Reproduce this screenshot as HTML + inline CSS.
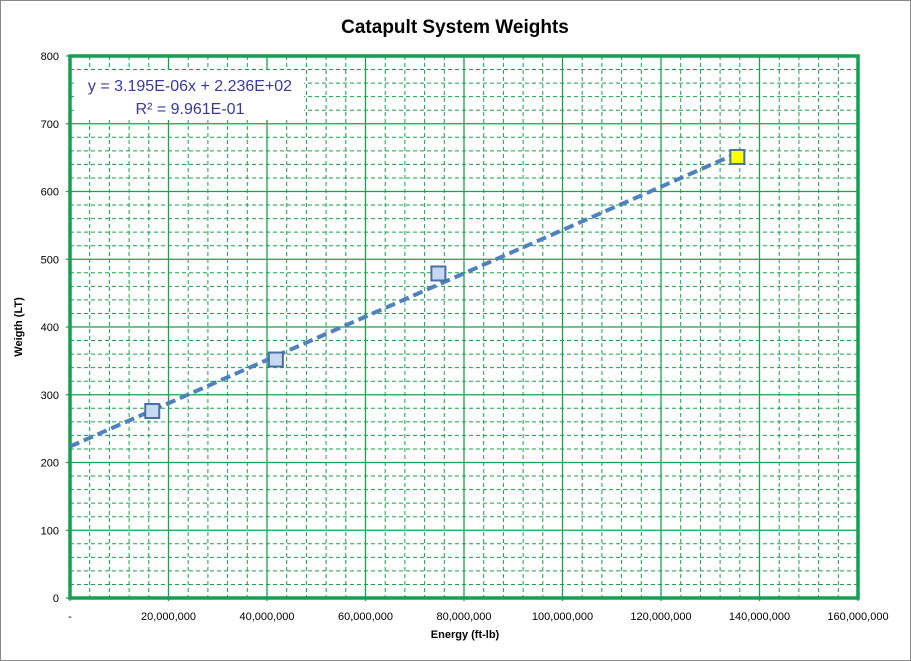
<!DOCTYPE html>
<html><head><meta charset="utf-8"><style>
html,body{margin:0;padding:0;background:#fff;}
svg{display:block;font-family:"Liberation Sans",Arial,sans-serif;}
</style></head><body>
<svg id="chart" width="911" height="661" viewBox="0 0 911 661">
<rect x="0.5" y="0.5" width="910" height="660" fill="#fff" stroke="#888"/>
<text x="455" y="33" text-anchor="middle" font-size="19" font-weight="bold" fill="#000">Catapult System Weights</text>
<g id="grid"></g>
<g id="axes"></g>
<g id="marks"></g>
<text x="465" y="638" text-anchor="middle" font-size="11" font-weight="bold">Energy (ft-lb)</text>
<text transform="translate(22,327) rotate(-90)" text-anchor="middle" font-size="11" font-weight="bold">Weigth (LT)</text>
<g>
<rect x="76" y="70" width="228" height="50" fill="#fff"/>
<text x="190" y="91" text-anchor="middle" font-size="16" fill="#3a3a9a">y = 3.195E-06x + 2.236E+02</text>
<text x="190" y="114" text-anchor="middle" font-size="16" fill="#3a3a9a">R² = 9.961E-01</text>
</g>
</svg>
<script>
const xTicks=[0,20000000,40000000,60000000,80000000,100000000,120000000,140000000,160000000];
const xTickLabels=["-","20,000,000","40,000,000","60,000,000","80,000,000","100,000,000","120,000,000","140,000,000","160,000,000"];
const yTicks=[0,100,200,300,400,500,600,700,800];
const energy=[16700000,41800000,74800000,135500000];
const weight=[276,352,479,651];
const pointColors=["#c5d9f1","#c5d9f1","#c5d9f1","#ffff00"];
const slope=3.195e-6, intercept=223.6;
const L=70,R=858,T=56,B=598;
const xs=v=>L+(v-0)/(160000000)*(R-L);
const ys=v=>B-(v/800)*(B-T);
const NS="http://www.w3.org/2000/svg";
function mk(tag,attrs,parent){const e=document.createElementNS(NS,tag);for(const k in attrs)e.setAttribute(k,attrs[k]);parent.appendChild(e);return e;}
const grid=document.getElementById('grid'),axes=document.getElementById('axes'),marks=document.getElementById('marks');
const g="#16a34a";
for(let i=0;i<xTicks.length-1;i++){const a=xTicks[i],b=xTicks[i+1];for(let k=1;k<5;k++){const x=xs(a+(b-a)*k/5);
const l=mk('line',{x1:x,x2:x,y1:T,y2:B,stroke:g,'stroke-width':1,'stroke-dasharray':'4,3'},grid);

}}
for(let i=0;i<yTicks.length-1;i++){const a=yTicks[i],b=yTicks[i+1];for(let k=1;k<5;k++){const y=ys(a+(b-a)*k/5);
const l=mk('line',{x1:L,x2:R,y1:y,y2:y,stroke:g,'stroke-width':1,'stroke-dasharray':'4,3'},grid);

}}
xTicks.forEach((v,i)=>{const x=xs(v);
const l=mk('line',{x1:x,x2:x,y1:T,y2:B+3,stroke:g,'stroke-width':1.3},grid);


const t=mk('text',{x:x,y:620,'text-anchor':'middle','font-size':11},axes);t.textContent=xTickLabels[i];

});
yTicks.forEach(v=>{const y=ys(v);
const l=mk('line',{x1:L-4,x2:R,y1:y,y2:y,stroke:g,'stroke-width':1.3},grid);


const t=mk('text',{x:L-11,y:y+4,'text-anchor':'end','font-size':11},axes);t.textContent=v;

});
const fr=mk('rect',{x:L,y:T,width:R-L,height:B-T,fill:'none',stroke:'#13a050','stroke-width':3.5},axes);


const xEnd=energy[energy.length-1];
const tl=mk('line',{x1:xs(0),y1:ys(intercept),x2:xs(xEnd),y2:ys(intercept+slope*xEnd),stroke:'#4f81bd','stroke-width':4,'stroke-dasharray':'10,5'},marks);


energy.forEach((e,i)=>{const x=xs(e),y=ys(weight[i]);
const r=mk('rect',{x:x-7,y:y-7,width:14,height:14,fill:pointColors[i],stroke:'#4a6fa5','stroke-width':2},marks);

});
</script>
</body></html>
